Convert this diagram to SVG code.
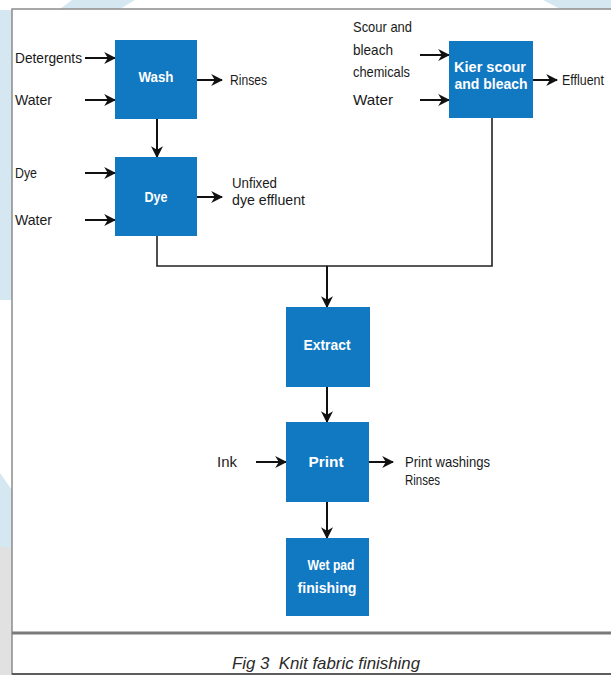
<svg xmlns="http://www.w3.org/2000/svg" width="611" height="675" viewBox="0 0 611 675">
<defs>
<style>
.lbl{font-family:"Liberation Sans Narrow","Liberation Sans",Arial,sans-serif;font-size:15px;fill:#1a1a1a}
.box{fill:#1178c2}
.bt{font-family:"Liberation Sans Narrow","Liberation Sans",Arial,sans-serif;font-size:15px;font-weight:bold;fill:#ffffff;text-anchor:middle}
.arr{stroke:#111;stroke-width:2;fill:none;marker-end:url(#ah)}
.cap{font-family:"Liberation Sans Narrow","Liberation Sans",Arial,sans-serif;font-size:17px;font-style:italic;fill:#2a2a2a}
</style>
<marker id="ah" viewBox="0 0 10 10" refX="9" refY="5" markerWidth="12" markerHeight="12" markerUnits="userSpaceOnUse" orient="auto">
<path d="M0,0 L10,5 L0,10 L3,5 z" fill="#111"/>
</marker>
</defs>
<rect x="0" y="0" width="611" height="675" fill="#ffffff"/>
<g id="background">
<polygon points="0,10 12,10 12,300 0,300" fill="#d5e7f1"/>
<polygon points="72,0 135,0 120,9 60,9" fill="#d5e7f1"/>
<polygon points="543,0 611,0 611,9 560,9" fill="#d5e7f1"/>
<polygon points="0,473 12,490 12,547 0,547" fill="#d5e7f1"/>
<rect x="0" y="547" width="12" height="128" fill="#e1e1e1"/>
</g>
<g id="panel">
<rect x="12" y="9" width="610" height="665" fill="#ffffff" stroke="#8c8c8c" stroke-width="1.5"/>
<line x1="12" y1="633" x2="611" y2="633" stroke="#7a7a7a" stroke-width="3"/>
<line x1="12" y1="674" x2="611" y2="674" stroke="#444" stroke-width="1.5"/>
</g>
<g id="connectors">
<line class="arr" x1="85" y1="58" x2="115" y2="58"/>
<line class="arr" x1="85" y1="100" x2="115" y2="100"/>
<line class="arr" x1="197" y1="80" x2="222" y2="80"/>
<line class="arr" x1="157" y1="119" x2="157" y2="157"/>
<line class="arr" x1="85" y1="173" x2="115" y2="173"/>
<line class="arr" x1="85" y1="220" x2="115" y2="220"/>
<line class="arr" x1="197" y1="197" x2="222" y2="197"/>
<line class="arr" x1="420" y1="55" x2="449" y2="55"/>
<line class="arr" x1="420" y1="100" x2="449" y2="100"/>
<line class="arr" x1="533" y1="80" x2="557" y2="80"/>
<path d="M157,236 V266 H492 V118" fill="none" stroke="#222" stroke-width="1.6"/>
<line class="arr" x1="327" y1="266" x2="327" y2="307"/>
<line class="arr" x1="327" y1="387" x2="327" y2="422"/>
<line class="arr" x1="256" y1="462" x2="286" y2="462"/>
<line class="arr" x1="369" y1="462" x2="393" y2="462"/>
<line class="arr" x1="327" y1="502" x2="327" y2="538"/>
</g>
<g id="wash">
<rect class="box" x="115" y="40" width="82" height="79"/>
<text class="bt" x="156" y="82" textLength="35" lengthAdjust="spacingAndGlyphs">Wash</text>
</g>
<g id="dye">
<rect class="box" x="115" y="157" width="82" height="79"/>
<text class="bt" x="156" y="202" textLength="23" lengthAdjust="spacingAndGlyphs">Dye</text>
</g>
<g id="kier">
<rect class="box" x="449" y="41" width="84" height="77"/>
<text class="bt" x="490" y="72" textLength="72" lengthAdjust="spacingAndGlyphs">Kier scour</text>
<text class="bt" x="491" y="89" textLength="73" lengthAdjust="spacingAndGlyphs">and bleach</text>
</g>
<g id="extract">
<rect class="box" x="286" y="307" width="84" height="80"/>
<text class="bt" x="327" y="350" textLength="47" lengthAdjust="spacingAndGlyphs">Extract</text>
</g>
<g id="print">
<rect class="box" x="286" y="422" width="83" height="80"/>
<text class="bt" x="326" y="467" textLength="35" lengthAdjust="spacingAndGlyphs">Print</text>
</g>
<g id="wetpad">
<rect class="box" x="286" y="538" width="83" height="78"/>
<text class="bt" x="331" y="570" textLength="47" lengthAdjust="spacingAndGlyphs">Wet pad</text>
<text class="bt" x="327" y="593" textLength="59" lengthAdjust="spacingAndGlyphs">finishing</text>
</g>
<g id="labels">
<text class="lbl" x="15" y="63" textLength="67" lengthAdjust="spacingAndGlyphs">Detergents</text>
<text class="lbl" x="15" y="105" textLength="37" lengthAdjust="spacingAndGlyphs">Water</text>
<text class="lbl" x="230" y="85" textLength="37" lengthAdjust="spacingAndGlyphs">Rinses</text>
<text class="lbl" x="15" y="178" textLength="22" lengthAdjust="spacingAndGlyphs">Dye</text>
<text class="lbl" x="15" y="225" textLength="37" lengthAdjust="spacingAndGlyphs">Water</text>
<text class="lbl" x="232" y="188" textLength="45" lengthAdjust="spacingAndGlyphs">Unfixed</text>
<text class="lbl" x="232" y="205" textLength="73" lengthAdjust="spacingAndGlyphs">dye effluent</text>
<text class="lbl" x="353" y="32" textLength="59" lengthAdjust="spacingAndGlyphs">Scour and</text>
<text class="lbl" x="353" y="55" textLength="40" lengthAdjust="spacingAndGlyphs">bleach</text>
<text class="lbl" x="353" y="77" textLength="57" lengthAdjust="spacingAndGlyphs">chemicals</text>
<text class="lbl" x="353" y="105" textLength="40" lengthAdjust="spacingAndGlyphs">Water</text>
<text class="lbl" x="562" y="85" textLength="42" lengthAdjust="spacingAndGlyphs">Effluent</text>
<text class="lbl" x="217" y="467" textLength="20" lengthAdjust="spacingAndGlyphs">Ink</text>
<text class="lbl" x="405" y="467" textLength="85" lengthAdjust="spacingAndGlyphs">Print washings</text>
<text class="lbl" x="405" y="485" textLength="35" lengthAdjust="spacingAndGlyphs">Rinses</text>
</g>
<g id="caption">
<text class="cap" x="232" y="669" textLength="188" lengthAdjust="spacingAndGlyphs" xml:space="preserve">Fig 3  Knit fabric finishing</text>
</g>
</svg>
